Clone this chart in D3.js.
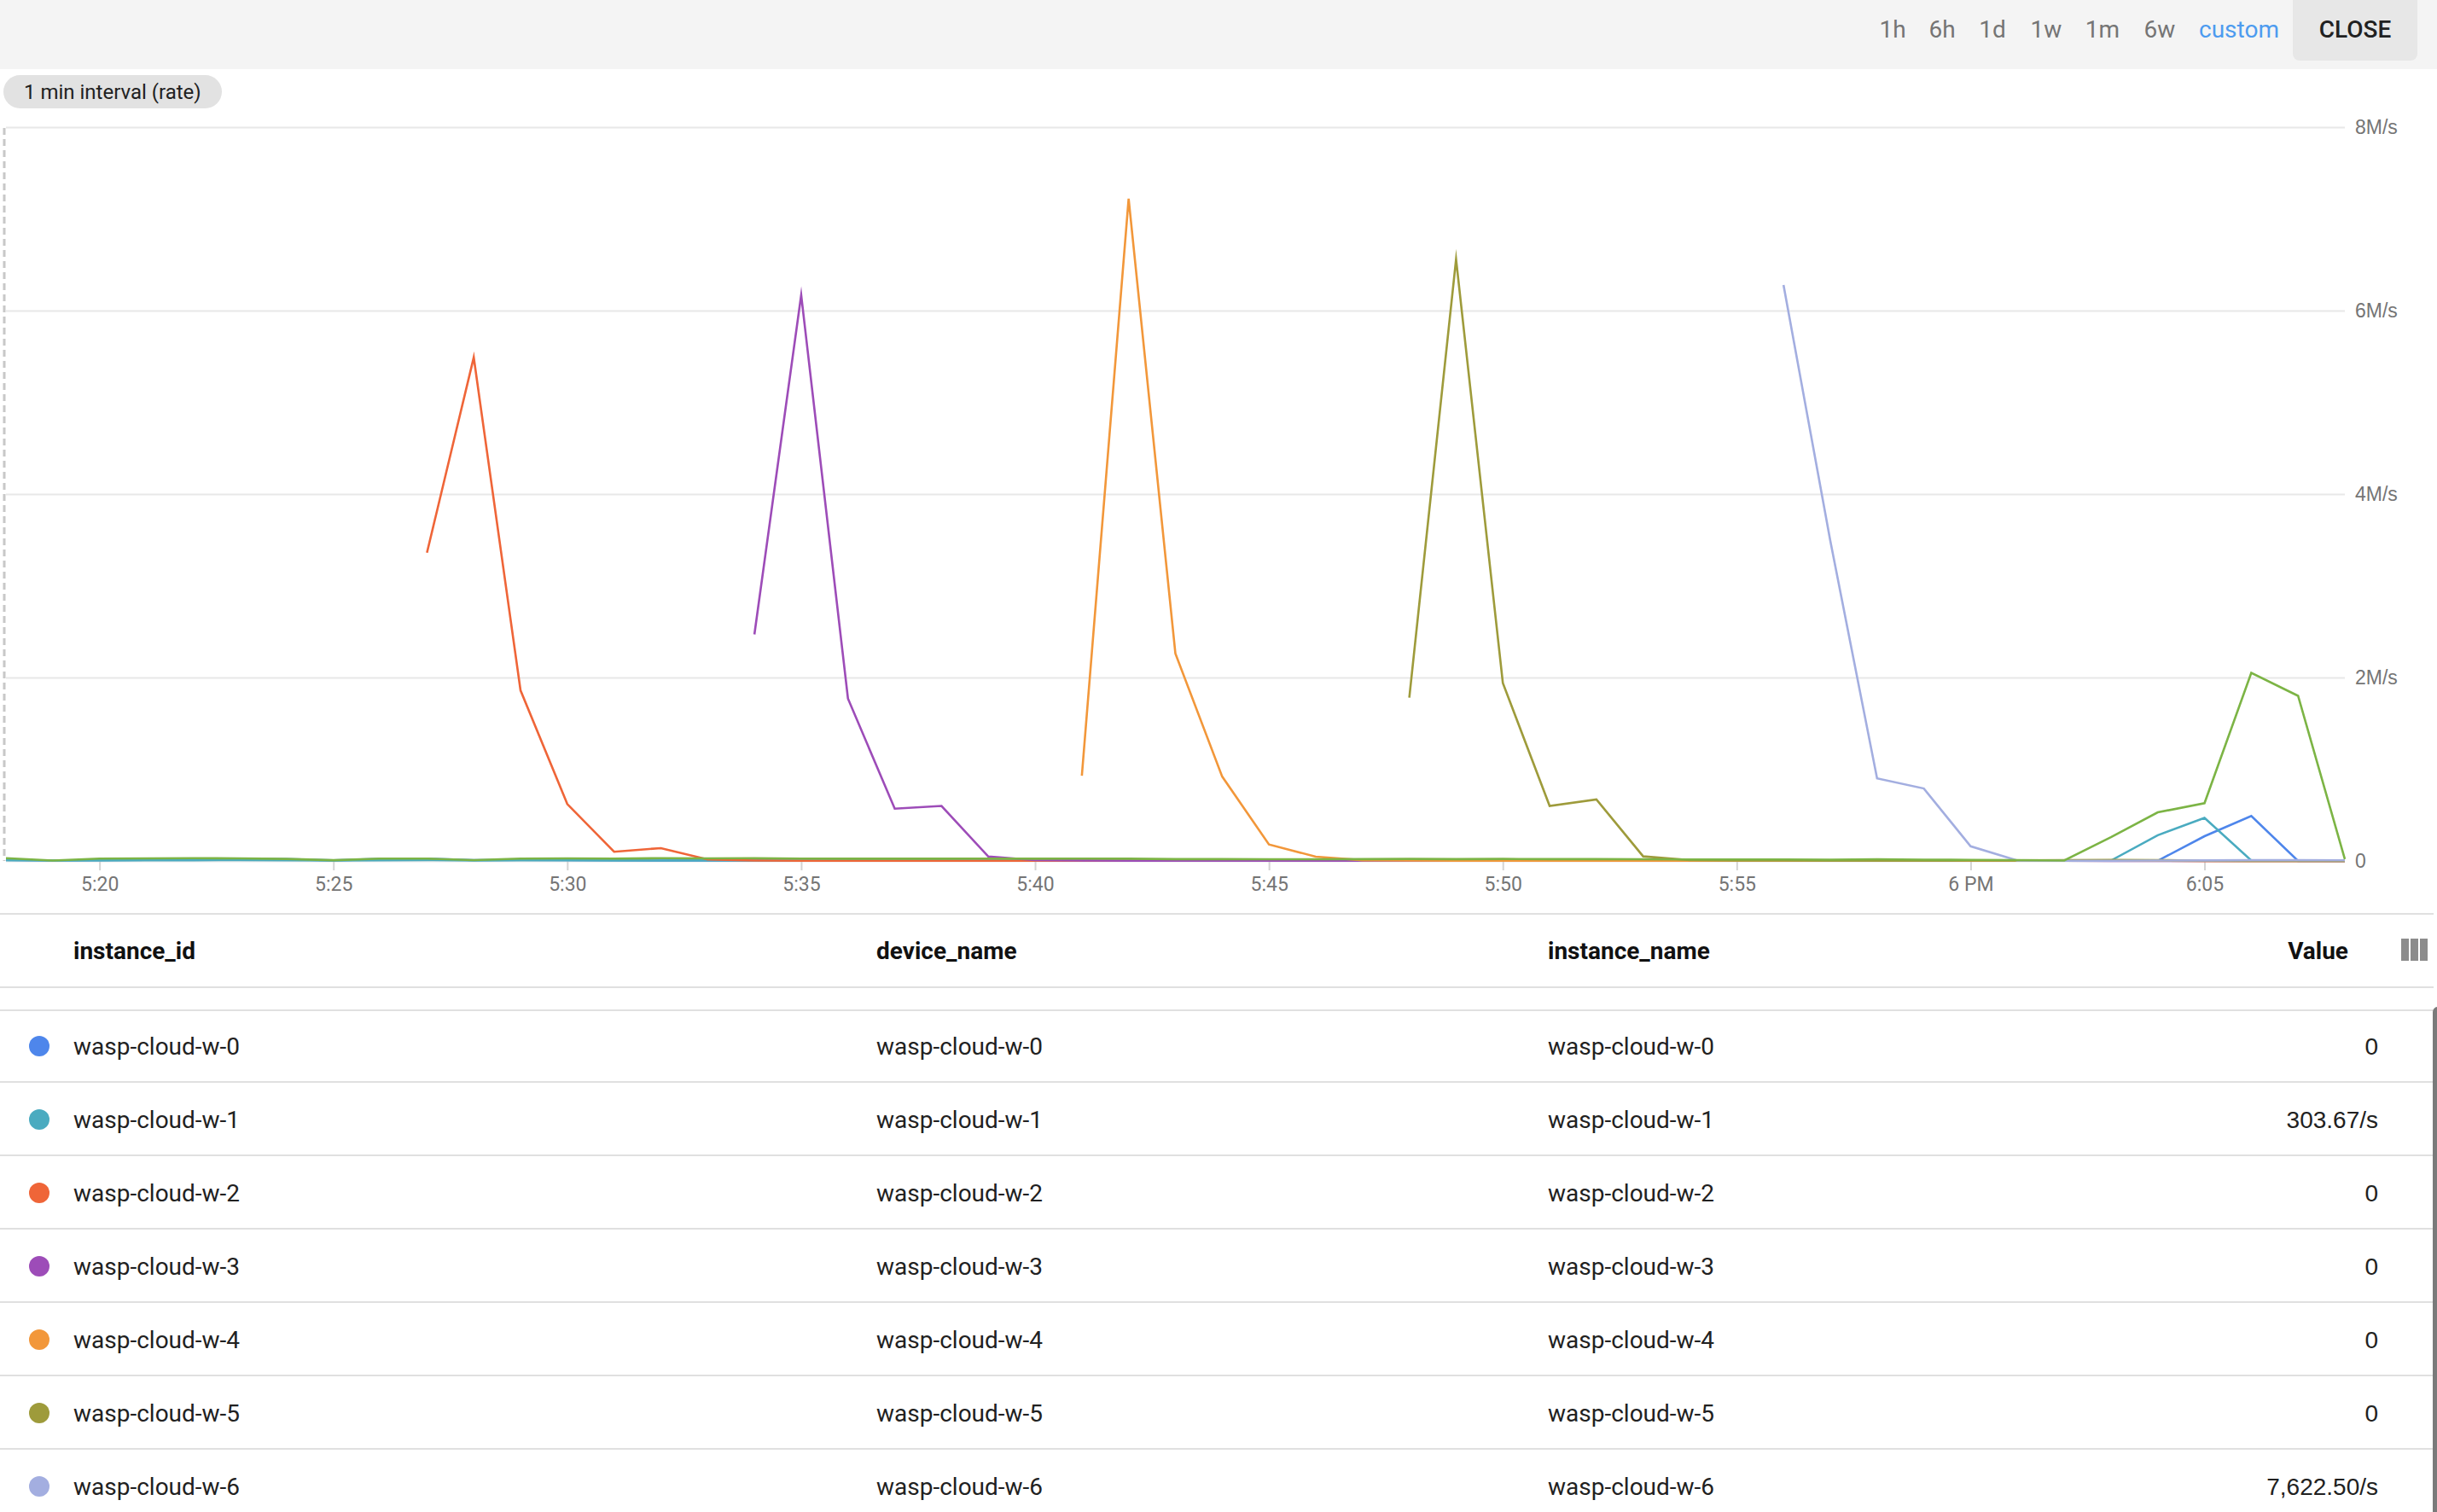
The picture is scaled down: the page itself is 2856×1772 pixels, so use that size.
<!DOCTYPE html>
<html><head><meta charset="utf-8">
<script src="https://cdn.jsdelivr.net/npm/d3@7"></script>
<style>
html,body{margin:0;padding:0;background:#fff;overflow:hidden;width:2856px;height:1772px;}
svg{display:block;}
</style></head><body>
<svg id="c" width="2856" height="1772"></svg>
<script>
// ---------- DATA ----------
const times = ["17:18","17:19","17:20","17:21","17:22","17:23","17:24","17:25","17:26","17:27",
"17:28","17:29","17:30","17:31","17:32","17:33","17:34","17:35","17:36","17:37",
"17:38","17:39","17:40","17:41","17:42","17:43","17:44","17:45","17:46","17:47",
"17:48","17:49","17:50","17:51","17:52","17:53","17:54","17:55","17:56","17:57",
"17:58","17:59","18:00","18:01","18:02","18:03","18:04","18:05","18:06","18:07","18:08"];

// series shown in the chart (the last one belongs to a table row below the visible area)
const seriesNames = ["wasp-cloud-w-0","wasp-cloud-w-1","wasp-cloud-w-2","wasp-cloud-w-3",
"wasp-cloud-w-4","wasp-cloud-w-5","wasp-cloud-w-6","wasp-cloud-w-7"];
const seriesColors = ["#4e86eb","#4aabc0","#ef6538","#9d4cb8","#f2973a","#9e9b3b","#a3aee0","#7cb445"];

// values in M/s, one per minute (null = no data)
const w0 = [0.012,0.004,0.010,0.012,0.014,0.022,0.020,0.006,0.022,0.024,
0.010,0.012,0.010,0.008,0.004,0.006,0.004,0.002,0.004,0.002,
0.004,0.003,0.004,0.002,0.003,0.004,0.002,0.002,0.003,0.002,
0.003,0.002,0.002,0.003,0.002,0.002,0.002,0.002,0.002,0.002,
0.003,0.002,0.002,0.002,0.002,0.002,0.002,0.27,0.49,0.0,0.0];
const w1 = [0.008,0.004,0.006,0.008,0.008,0.010,0.008,0.004,0.008,0.010,
0.006,0.008,0.008,0.006,0.004,0.006,0.006,0.004,0.004,0.004,
0.004,0.004,0.004,0.004,0.004,0.004,0.004,0.004,0.004,0.004,
0.004,0.004,0.004,0.004,0.004,0.004,0.004,0.004,0.004,0.004,
0.004,0.006,0.004,0.004,0.004,0.004,0.28,0.47,0.005,0.004,0.0003];
const w2 = [null,null,null,null,null,null,null,null,null,3.36,
5.49,1.86,0.62,0.10,0.14,0.016,0.004,0.003,0.002,0.002,
0.002,0.002,0.002,0.002,0.002,0.002,0.002,0.002,0.002,0.002,
0.002,0.002,0.002,0.002,0.002,0.002,0.002,0.002,0.002,0.002,
0.002,0.002,0.002,0.002,0.002,0.002,0.002,0.001,0.0,0.0,0.0];
const w3 = [null,null,null,null,null,null,null,null,null,null,
null,null,null,null,null,null,2.47,6.17,1.77,0.57,
0.60,0.048,0.01,0.004,0.003,0.003,0.002,0.002,0.002,0.002,
0.002,0.002,0.002,0.002,0.002,0.002,0.002,0.002,0.002,0.002,
0.002,0.002,0.002,0.002,0.002,0.001,0.001,0.0,0.0,0.0,0.0];
const w4 = [null,null,null,null,null,null,null,null,null,null,
null,null,null,null,null,null,null,null,null,null,
null,null,null,0.93,7.22,2.26,0.92,0.18,0.047,0.008,
0.004,0.003,0.003,0.002,0.002,0.002,0.002,0.002,0.002,0.002,
0.002,0.002,0.002,0.002,0.002,0.002,0.002,0.001,0.0,0.0,0.0];
const w5 = [null,null,null,null,null,null,null,null,null,null,
null,null,null,null,null,null,null,null,null,null,
null,null,null,null,null,null,null,null,null,null,
1.78,6.56,1.94,0.60,0.67,0.05,0.01,0.004,0.004,0.003,
0.003,0.003,0.004,0.006,0.008,0.012,0.010,0.002,0.0,0.0,0.0];
const w6 = [null,null,null,null,null,null,null,null,null,null,
null,null,null,null,null,null,null,null,null,null,
null,null,null,null,null,null,null,null,null,null,
null,null,null,null,null,null,null,null,6.28,3.49,
0.90,0.79,0.16,0.004,0.003,0.003,0.004,0.006,0.008,0.008,0.0076];
const w7 = [0.030,0.005,0.025,0.028,0.030,0.028,0.022,0.008,0.025,0.025,
0.010,0.025,0.028,0.025,0.030,0.028,0.030,0.026,0.024,0.024,
0.024,0.026,0.024,0.026,0.024,0.020,0.020,0.018,0.018,0.020,
0.022,0.020,0.022,0.020,0.020,0.018,0.016,0.016,0.016,0.014,
0.018,0.014,0.012,0.010,0.005,0.26,0.53,0.63,2.05,1.80,0.02];
const seriesValues = [w0,w1,w2,w3,w4,w5,w6,w7];

// table rows visible in the reference
const tableRowCount = 7;
const latestValues = ["0","303.67/s","0","0","0","0","7,622.50/s"];

const xTickTimes = ["17:20","17:25","17:30","17:35","17:40","17:45","17:50","17:55","18:00","18:05"];
const xTickLabels = ["5:20","5:25","5:30","5:35","5:40","5:45","5:50","5:55","6 PM","6:05"];
const yTicks = [0,2,4,6,8];
const yTickLabels = ["0","2M/s","4M/s","6M/s","8M/s"];

const rangeButtons = ["1h","6h","1d","1w","1m","6w","custom"];
const closeLabel = "CLOSE";
const intervalLabel = "1 min interval (rate)";
const tableColumns = ["instance_id","device_name","instance_name","Value"];

// ---------- DRAW ----------
const svg = d3.select("#c");
const parse = d3.timeParse("%H:%M");
const W = 2856;

// top bar
svg.append("rect").attr("x",0).attr("y",0).attr("width",W).attr("height",81).attr("fill","#f4f4f4");
svg.append("rect").attr("x",2687).attr("y",-12).attr("width",146).attr("height",83).attr("rx",8).attr("fill","#e7e7e7");
const btnX = [2218,2276,2335,2398,2464,2531,2624];
svg.selectAll("text.rng").data(rangeButtons).join("text").attr("class","rng")
  .attr("x",(d,i)=>btnX[i]).attr("y",34).attr("text-anchor","middle").attr("dominant-baseline","central")
  .attr("font-family","Roboto").attr("font-size",28)
  .attr("fill",d=>d==="custom"?"#4d9bef":"#757575").text(d=>d);
svg.append("text").attr("x",2760).attr("y",34).attr("text-anchor","middle").attr("dominant-baseline","central")
  .attr("font-family","Roboto").attr("font-weight",500).attr("font-size",28).attr("fill","#212121").text(closeLabel);

// interval chip
svg.append("rect").attr("x",4).attr("y",88).attr("width",256).attr("height",39).attr("rx",19.5).attr("fill","#e2e2e2");
svg.append("text").attr("x",28).attr("y",108).attr("dominant-baseline","central")
  .attr("font-family","Roboto").attr("font-size",24).attr("fill","#212121").text(intervalLabel);

// scales
const x = d3.scaleTime().domain([parse(times[0]), parse(times[times.length-1])]).range([7,2748]);
const y = d3.scaleLinear().domain([0,8]).range([1009,149]);

// y axis + gridlines
const yAxis = d3.axisRight(y).tickValues(yTicks).tickSize(-(2748-7)).tickPadding(12)
  .tickFormat((d,i)=>yTickLabels[i]);
const gy = svg.append("g").attr("transform","translate(2748,0)").call(yAxis);
gy.select(".domain").remove();
gy.selectAll(".tick line").attr("stroke","#e8e8e8").attr("stroke-width",2);
gy.selectAll(".tick text").attr("font-family","'Liberation Sans', Arial, sans-serif").attr("font-size",23).attr("fill","#757575");

// dashed left line
svg.append("line").attr("x1",5).attr("x2",5).attr("y1",150).attr("y2",1009)
  .attr("stroke","#c8c8c8").attr("stroke-width",3).attr("stroke-dasharray","8,5");

// x axis
const xAxis = d3.axisBottom(x).tickValues(xTickTimes.map(parse)).tickSize(11).tickPadding(8)
  .tickFormat((d,i)=>xTickLabels[i]);
const gx = svg.append("g").attr("transform","translate(0,1009)").call(xAxis);
gx.select(".domain").remove();
gx.selectAll(".tick line").attr("stroke","#d4d4d4").attr("stroke-width",2);
gx.selectAll(".tick text").attr("font-family","Roboto").attr("font-size",23).attr("fill","#757575");

// lines
const line = d3.line().defined(d=>d.v!=null).x(d=>x(d.t)).y(d=>y(d.v));
const drawOrder = [0,1,2,3,4,5,6,7];
svg.append("g").selectAll("path").data(drawOrder).join("path")
  .attr("fill","none").attr("stroke",i=>seriesColors[i]).attr("stroke-width",2.6)
  .attr("stroke-linejoin","miter").attr("stroke-miterlimit",10)
  .attr("d",i=>line(seriesValues[i].map((v,k)=>({t:parse(times[k]),v:v}))));

// table
const hl = (yy)=>svg.append("line").attr("x1",0).attr("x2",2852).attr("y1",yy).attr("y2",yy).attr("stroke","#e0e0e0").attr("stroke-width",2);
hl(1071); hl(1157); hl(1184);
const colX = [86,1027,1814];
tableColumns.forEach((c,i)=>{
  const t = svg.append("text").attr("y",1114).attr("dominant-baseline","central")
    .attr("font-family","Roboto").attr("font-weight",700).attr("font-size",28).attr("fill","#111").text(c);
  if(i<3) t.attr("x",colX[i]); else t.attr("x",2752).attr("text-anchor","end");
});
// column chooser icon
[0,1,2].forEach(k=>svg.append("rect").attr("x",2814+k*11).attr("y",1100).attr("width",9).attr("height",26).attr("fill","#8c8c8c"));

const rowH = 86, row0 = 1226;
seriesNames.slice(0,tableRowCount).forEach((n,i)=>{
  const cy = row0 + i*rowH;
  svg.append("circle").attr("cx",46).attr("cy",cy).attr("r",12).attr("fill",seriesColors[i]);
  colX.forEach(cx=>svg.append("text").attr("x",cx).attr("y",cy).attr("dominant-baseline","central")
    .attr("font-family","Roboto").attr("font-size",28).attr("fill","#212121").text(n));
  svg.append("text").attr("x",2787).attr("y",cy).attr("text-anchor","end").attr("dominant-baseline","central")
    .attr("font-family","'Liberation Sans', Arial, sans-serif").attr("font-size",28).attr("fill","#212121").text(latestValues[i]);
  if(i<tableRowCount-1) hl(cy + 42);
});
// scrollbar thumb edge
svg.append("rect").attr("x",2851).attr("y",1180).attr("width",12).attr("height",700).attr("rx",6).attr("fill","#7a7a7a");
</script>
</body></html>
